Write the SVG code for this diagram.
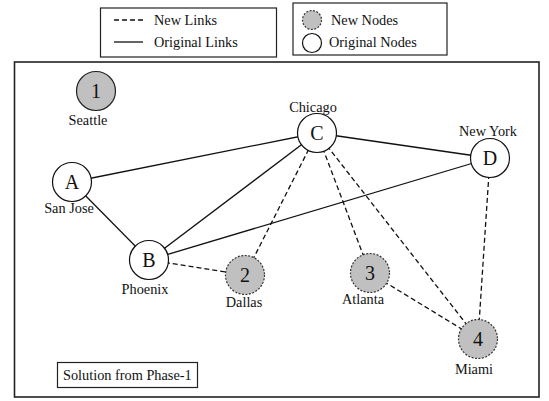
<svg xmlns="http://www.w3.org/2000/svg" width="549" height="401" viewBox="0 0 549 401">
<style>
text{font-family:"Liberation Serif","Times New Roman",serif;fill:#111;}
.lbl{font-size:14.3px;text-anchor:middle;}
.ltr{font-size:20px;text-anchor:middle;}
.leg{font-size:14.3px;}
.box{fill:#fff;stroke:#222;stroke-width:1.2;}
.orig{fill:#fff;stroke:#111;stroke-width:1.2;}
.newn{fill:#c0c0c0;stroke:#333;stroke-width:1.2;stroke-dasharray:2,1.5;}
.solidg{fill:#c0c0c0;stroke:#222;stroke-width:1.2;}
.ol{stroke:#111;stroke-width:1.3;fill:none;}
.nl{stroke:#111;stroke-width:1.3;fill:none;stroke-dasharray:5,3;}
</style>
<rect width="549" height="401" fill="#fff"/>
<g id="frame"><rect x="14.5" y="62" width="524.5" height="335" fill="#fff" stroke="#222" stroke-width="1.6"/></g>
<g id="legend-links">
<rect class="box" x="100.5" y="8" width="176" height="49"/>
<line class="nl" x1="114" y1="20" x2="143" y2="20"/>
<line class="ol" x1="114" y1="42" x2="143" y2="42"/>
<text class="leg" x="154" y="25">New Links</text>
<text class="leg" x="154" y="47">Original Links</text>
</g>
<g id="legend-nodes">
<rect class="box" x="293" y="3" width="154" height="52"/>
<circle class="newn" cx="312" cy="20" r="9.5"/>
<circle class="orig" cx="312" cy="43" r="9.5"/>
<text class="leg" x="331" y="25">New Nodes</text>
<text class="leg" x="329" y="47">Original Nodes</text>
</g>
<g id="connectors">
<line class="ol" x1="72" y1="182" x2="317" y2="133"/>
<line class="ol" x1="72" y1="182" x2="149" y2="260"/>
<line class="ol" x1="149" y1="260" x2="317" y2="133"/>
<line class="ol" x1="149" y1="260" x2="490" y2="158"/>
<line class="ol" x1="317" y1="133" x2="490" y2="158"/>
<line class="nl" x1="149" y1="260" x2="245" y2="275"/>
<line class="nl" x1="245" y1="275" x2="317" y2="133"/>
<line class="nl" x1="317" y1="133" x2="370" y2="273"/>
<line class="nl" x1="317" y1="133" x2="478" y2="339"/>
<line class="nl" x1="370" y1="273" x2="478" y2="339"/>
<line class="nl" x1="490" y1="158" x2="478" y2="339"/>
</g>
<g id="node-1"><circle class="solidg" cx="96" cy="91" r="19.5"/><text class="ltr" x="96" y="98">1</text><text class="lbl" x="88" y="125">Seattle</text></g>
<g id="node-A"><circle class="orig" cx="72" cy="182" r="19.5"/><text class="ltr" x="72" y="189">A</text><text class="lbl" x="69" y="213">San Jose</text></g>
<g id="node-B"><circle class="orig" cx="149" cy="260" r="19.5"/><text class="ltr" x="149" y="267">B</text><text class="lbl" x="145" y="294">Phoenix</text></g>
<g id="node-C"><circle class="orig" cx="317" cy="133" r="19.5"/><text class="ltr" x="317" y="140">C</text><text class="lbl" x="313" y="112">Chicago</text></g>
<g id="node-D"><circle class="orig" cx="490" cy="158" r="19.5"/><text class="ltr" x="490" y="165">D</text><text class="lbl" x="488" y="136">New York</text></g>
<g id="node-2"><circle class="newn" cx="245" cy="275" r="19.5"/><text class="ltr" x="245" y="282">2</text><text class="lbl" x="244" y="307">Dallas</text></g>
<g id="node-3"><circle class="newn" cx="370" cy="273" r="19.5"/><text class="ltr" x="370" y="280">3</text><text class="lbl" x="363" y="304">Atlanta</text></g>
<g id="node-4"><circle class="newn" cx="478" cy="339" r="19.5"/><text class="ltr" x="478" y="346">4</text><text class="lbl" x="474" y="374">Miami</text></g>
<g id="caption"><rect class="box" x="57.5" y="362.5" width="140" height="25"/><text class="leg" x="63" y="380">Solution from Phase-1</text></g>
</svg>
